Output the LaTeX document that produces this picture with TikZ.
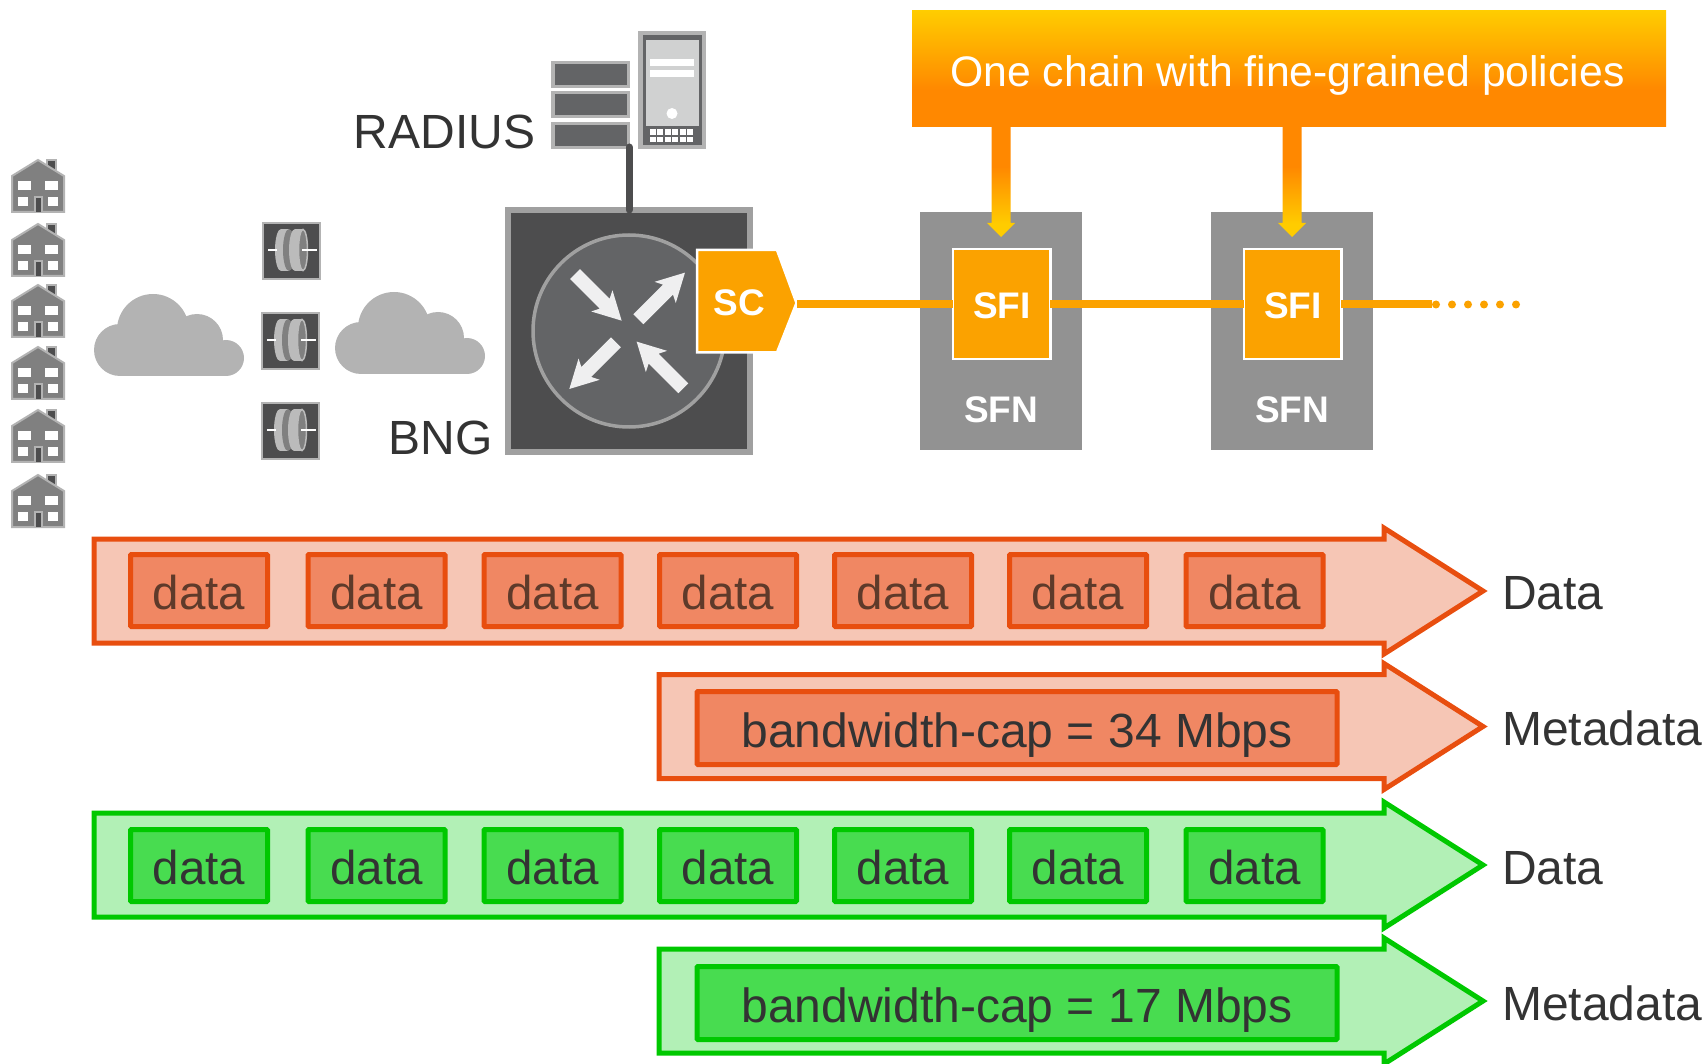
\documentclass[tikz,border=0pt]{standalone}
\usepackage{fontspec}
\setmainfont{Liberation Sans}
\usetikzlibrary{calc}
\definecolor{txt}{HTML}{333333}
\definecolor{iconlight}{HTML}{B3B3B3}
\definecolor{icondark}{HTML}{4D4D4E}
\definecolor{iconmid}{HTML}{636466}
\definecolor{iconedge}{HTML}{A0A0A0}
\definecolor{housegray}{HTML}{808080}
\definecolor{sfa}{HTML}{FBA200}
\definecolor{sfn}{HTML}{929292}
\definecolor{redline}{HTML}{E84E0F}
\definecolor{redarrow}{HTML}{F6C6B5}
\definecolor{redbox}{HTML}{F08763}
\definecolor{redtxt}{HTML}{5E3A2A}
\definecolor{greenline}{HTML}{00C800}
\definecolor{greenarrow}{HTML}{B2F0B6}
\definecolor{greenbox}{HTML}{48DC50}
\definecolor{ygold}{HTML}{FFCC00}
\definecolor{orng}{HTML}{FF8800}
\pgfdeclareverticalshading{bannershade}{100bp}{color(0bp)=(orng); color(41bp)=(orng); color(75bp)=(ygold); color(100bp)=(ygold)}
\pgfdeclareverticalshading{policyshade}{100bp}{color(0bp)=(ygold); color(31bp)=(ygold); color(57bp)=(orng); color(100bp)=(orng)}
\newcommand{\fs}[1]{\fontsize{#1}{#1}\selectfont}
\tikzset{
  x=1pt,y=-1pt,
  lbl/.style={anchor=base,text=txt,font=\fs{48},inner sep=0,outer sep=0},
  whitebold/.style={anchor=base,text=white,font=\fs{37}\bfseries,inner sep=0,outer sep=0},
  sfnbox/.style={fill=sfn,minimum width=162pt,minimum height=238pt,inner sep=0,outer sep=0},
  sfibox/.style={fill=sfa,draw=white,line width=2.5pt,minimum width=97.5pt,minimum height=110pt,inner sep=0,outer sep=0},
  flowbox/.style={rounded corners=1pt,line width=5pt,inner sep=0,outer sep=0,minimum height=72pt,text height=44pt,text depth=6pt},
  databox/.style={flowbox,minimum width=137pt,font=\fs{47.5}},
  capbox/.style={flowbox,minimum width=640pt,minimum height=73pt,font=\fs{48},text=txt},
  redb/.style={draw=redline,fill=redbox},
  greenb/.style={draw=greenline,fill=greenbox},
  flowarrow/.style={line width=5pt,miter limit=10},
  orangeline/.style={draw=sfa,line width=7.5pt},
  policyarrow/.style={shading=policyshade},
  house/.pic={
    \fill[iconlight] (35,0) rectangle (46,11);
    \fill[icondark] (37,2) rectangle (44,10);
    \draw[draw=iconlight,fill=housegray,line width=2pt,line join=miter]
      (1,17) -- (27,1) -- (53,17) -- (53,53) -- (1,53) -- cycle;
    \fill[white] (7,22) rectangle (20,31);
    \fill[white] (33.5,22) rectangle (47,31);
    \fill[white] (7,38) rectangle (17,47);
    \fill[white] (37,38) rectangle (47,47);
    \draw[draw=iconlight,fill=icondark,line width=1.5pt] (24,53) -- (24,38) -- (31,38) -- (31,53);
  },
  cloudicon/.pic={
    \fill[iconlight] (59,36) circle[radius=36];
    \fill[iconlight] (26,56) circle[radius=26];
    \fill[iconlight] (103,46) circle[radius=26];
    \fill[iconlight] (132,64) circle[radius=18];
    \fill[iconlight] (26,60) rectangle (132,82);
  },
  ont/.pic={
    \draw[draw=iconlight,fill=icondark,line width=2pt] (1,1) rectangle (58,57);
    \fill[iconlight!90!white] (19,7) rectangle (27,49);
    \fill[iconlight!90!white] (19,28) ellipse[x radius=6,y radius=21];
    \fill[housegray] (27,28) ellipse[x radius=6,y radius=21];
    \fill[iconlight!90!white] (33,7) rectangle (41,49);
    \fill[iconlight!90!white] (33,28) ellipse[x radius=6,y radius=21];
    \draw[draw=iconlight!90!white,fill=housegray,line width=1.5pt] (41,28) ellipse[x radius=4.5,y radius=20.5];
    \draw[white,line width=2pt] (6,28) -- (15,28);
    \draw[white,line width=2pt] (40,28) -- (55,28);
  },
  rackunit/.pic={
    \fill[iconlight] (0,0) rectangle (79,27);
    \fill[iconmid] (3.5,3.5) rectangle (75.5,24);
  },
  routerarrow/.pic={
    \fill[fill=white!90!iconmid] (0,-7) -- (42,-7) -- (38,-15) -- (66,0) -- (38,15) -- (42,7) -- (0,7) -- cycle;
  },
}
\begin{document}
\begin{tikzpicture}
\useasboundingbox (0,0) rectangle (1706,1064);
% houses
\pic at (11,159) {house};
\pic at (11,223) {house};
\pic at (11,284) {house};
\pic at (11,346) {house};
\pic at (11,409) {house};
\pic at (11,474) {house};
% clouds
\pic at (94,294) {cloudicon};
\pic at (335,292) {cloudicon};
% ONTs
\pic at (262,222) {ont};
\pic at (261,312) {ont};
\pic at (261,402) {ont};
% RADIUS
\pic at (551,61) {rackunit};
\pic at (551,91) {rackunit};
\pic at (551,122) {rackunit};
\fill[iconlight] (638,31) rectangle (706,149);
\fill[iconmid] (642.5,35) rectangle (701.5,145.5);
\fill[white!70!iconmid] (646,40) rectangle (698.5,126.5);
\fill[white] (650,59) rectangle (694,66);
\fill[white] (650,70) rectangle (694,77);
\fill[white] (672,113.5) circle[radius=5.5];
\foreach \kx in {649.5,657,664.5,672,679.5,687}{
  \fill[white] (\kx,129.5) rectangle +(6,5.5);
  \fill[white] (\kx,137) rectangle +(6,5.5);
}
\node[lbl] (radius) at (444.5,149) {RADIUS};
% BNG
\node[draw=iconedge,fill=icondark,line width=6pt,minimum width=242pt,minimum height=242pt,inner sep=0,outer sep=0] (bng) at (629,331) {};
\draw[draw=iconedge,fill=iconmid,line width=3.5pt] (629,331) circle[radius=96];
\pic[rotate=-45] at (575,274) {routerarrow};
\pic[rotate=45] at (638.3,319.3) {routerarrow};
\pic[rotate=-135] at (616,342.3) {routerarrow};
\pic[rotate=135] at (683.3,388.3) {routerarrow};
\node[lbl] (bnglabel) at (440.5,454) {BNG};
\coordinate (radiusfoot) at (629,147);
\draw[draw=icondark,line width=7pt,line cap=round] (radiusfoot) -- (bng.north);
% SC
\draw[draw=white,fill=sfa,line width=2.5pt] (697,250) -- (777,250) -- (796.5,303) -- (777,352.5) -- (697,352.5) -- cycle;
\node[whitebold] (sc) at (739.5,315.5) {SC};
\coordinate (sctip) at (797,304);
% SFN / SFI
\node[sfnbox] (sfn1) at (1001,331) {};
\node[sfnbox] (sfn2) at (1292,331) {};
\node[sfibox] (sfi1) at (1001.5,304) {};
\node[sfibox] (sfi2) at (1292.5,304) {};
\node[whitebold] (sfit1) at (1002,319) {SFI};
\node[whitebold] (sfit2) at (1293,319) {SFI};
\node[whitebold] (sfnt1) at (1001,423) {SFN};
\node[whitebold] (sfnt2) at (1292,423) {SFN};
\coordinate (chainend) at (1432,304);
\coordinate (dotstart) at (1436,304.5);
\coordinate (dotend) at (1522,304.5);
\draw[orangeline] (sctip) -- (sfi1.west);
\draw[orangeline] (sfi1.east) -- (sfi2.west);
\draw[orangeline] (sfi2.east) -- (chainend);
\draw[draw=sfa,line width=8pt,line cap=round,dash pattern=on 0pt off 16pt] (dotstart) -- (dotend);
% Banner
\node[shading=bannershade,minimum width=754pt,minimum height=116pt,inner sep=0,outer sep=0] (banner) at (1289,69) {};
\node[anchor=base,text=white,font=\fs{42.7},inner sep=0] (bannertext) at (1287.5,87) {One chain with fine-grained policies};
\coordinate (pa) at (1001,127);
\coordinate (pb) at (1292,127);
\path[policyarrow] ($(pa)+(-9.5,0)$) -- ($(pa)+(9.5,0)$) -- ($(pa)+(9.5,96)$) -- ($(pa)+(14,96)$) -- ($(pa)+(0,110)$) -- ($(pa)+(-14,96)$) -- ($(pa)+(-9.5,96)$) -- cycle;
\path[policyarrow] ($(pb)+(-9.5,0)$) -- ($(pb)+(9.5,0)$) -- ($(pb)+(9.5,96)$) -- ($(pb)+(14,96)$) -- ($(pb)+(0,110)$) -- ($(pb)+(-14,96)$) -- ($(pb)+(-9.5,96)$) -- cycle;
% Flow arrows
\draw[flowarrow,draw=redline,fill=redarrow] (94,539) -- (1384,539) -- (1384,528) -- (1483,591) -- (1384,654) -- (1384,643) -- (94,643) -- cycle;
\draw[flowarrow,draw=redline,fill=redarrow] (659,674.5) -- (1384,674.5) -- (1384,663.5) -- (1483,726.5) -- (1384,789.5) -- (1384,778.5) -- (659,778.5) -- cycle;
\draw[flowarrow,draw=greenline,fill=greenarrow] (94,813) -- (1384,813) -- (1384,802) -- (1483,865) -- (1384,928) -- (1384,917) -- (94,917) -- cycle;
\draw[flowarrow,draw=greenline,fill=greenarrow] (659,949) -- (1384,949) -- (1384,938) -- (1483,1001) -- (1384,1064) -- (1384,1053) -- (659,1053) -- cycle;
% Row 1
\node[databox,redb,text=redtxt] (r1) at (199,590.5) {data};
\node[databox,redb,text=redtxt] (r2) at (376.5,590.5) {data};
\node[databox,redb,text=redtxt] (r3) at (552.5,590.5) {data};
\node[databox,redb,text=redtxt] (r4) at (728,590.5) {data};
\node[databox,redb,text=redtxt] (r5) at (903,590.5) {data};
\node[databox,redb,text=redtxt] (r6) at (1078,590.5) {data};
\node[databox,redb,text=redtxt] (r7) at (1254.5,590.5) {data};
\node[capbox,redb] (rcap) at (1017,728) {bandwidth-cap = 34 Mbps};
% Row 3
\node[databox,greenb,text=txt] (g1) at (199,865.5) {data};
\node[databox,greenb,text=txt] (g2) at (376.5,865.5) {data};
\node[databox,greenb,text=txt] (g3) at (552.5,865.5) {data};
\node[databox,greenb,text=txt] (g4) at (728,865.5) {data};
\node[databox,greenb,text=txt] (g5) at (903,865.5) {data};
\node[databox,greenb,text=txt] (g6) at (1078,865.5) {data};
\node[databox,greenb,text=txt] (g7) at (1254.5,865.5) {data};
\node[capbox,greenb] (gcap) at (1017,1003) {bandwidth-cap = 17 Mbps};
% Labels
\node[lbl,anchor=base west] (l1) at (1502,609) {Data};
\node[lbl,anchor=base west] (l2) at (1502,745) {Metadata};
\node[lbl,anchor=base west] (l3) at (1502,884) {Data};
\node[lbl,anchor=base west] (l4) at (1502,1020) {Metadata};
\end{tikzpicture}
\end{document}
